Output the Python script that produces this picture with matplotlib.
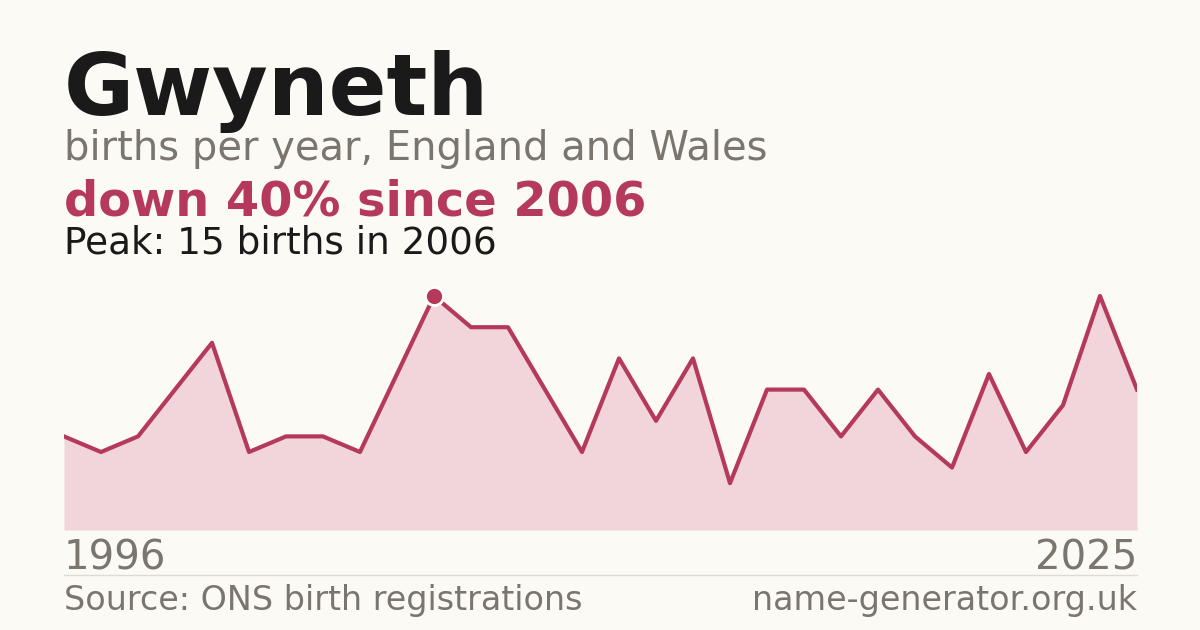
import matplotlib
matplotlib.use("Agg")
import matplotlib.pyplot as plt

name = "Gwyneth"
years = list(range(1996, 2026))
births = [6, 5, 6, 9, 12, 5, 6, 6, 5, 10, 15, 13, 13, 9, 5,
          11, 7, 11, 3, 9, 9, 6, 9, 6, 4, 10, 5, 8, 15, 9]
peak_year = 2006
peak_value = 15

bg = "#fbfaf5"
red = "#b5395a"
fill = "#f2d5db"
grey = "#7a756d"
dark = "#1a1a1a"

W, H = 1200, 630
fig = plt.figure(figsize=(W / 100, H / 100), dpi=100, facecolor=bg)


def fy(px):
    return 1 - px / H


def fx(px):
    return px / W


# plot area: x 64..1137, baseline at y=530
ax = fig.add_axes([fx(64), fy(530), fx(1137 - 64), (16 * 15.6) / H])
ax.set_facecolor("none")
ax.fill_between(years, births, 0, color=fill, lw=0)
ax.plot(years, births, color=red, lw=3, solid_joinstyle="round")
ax.plot([peak_year], [peak_value], "o", ms=13, color=red,
        markeredgecolor="white", markeredgewidth=2, zorder=5)
ax.set_xlim(years[0], years[-1])
ax.set_ylim(0, 16)
ax.axis("off")

fig.text(fx(64), fy(115), name, fontsize=61.6, fontweight="bold",
         color=dark, va="baseline")
fig.text(fx(64), fy(160), "births per year, England and Wales",
         fontsize=28.8, color=grey, va="baseline")
fig.text(fx(64), fy(215), "down 40% since 2006", fontsize=34.5,
         fontweight="bold", color=red, va="baseline")
fig.text(fx(64), fy(254), f"Peak: {peak_value} births in {peak_year}",
         fontsize=26.9, color=dark, va="baseline")

fig.text(fx(64), fy(570), str(years[0]), fontsize=29, color=grey, va="baseline")
fig.text(fx(1137), fy(570), str(years[-1]), fontsize=29, color=grey,
         va="baseline", ha="right")

fig.add_artist(plt.Line2D([fx(64), fx(1137)], [fy(575), fy(575)],
                          color="#dddbd4", lw=1))

fig.text(fx(64), fy(610), "Source: ONS birth registrations", fontsize=24,
         color=grey, va="baseline")
fig.text(fx(1137), fy(610), "name-generator.org.uk", fontsize=24,
         color=grey, va="baseline", ha="right")

fig.savefig("out.png", dpi=100, facecolor=bg)
